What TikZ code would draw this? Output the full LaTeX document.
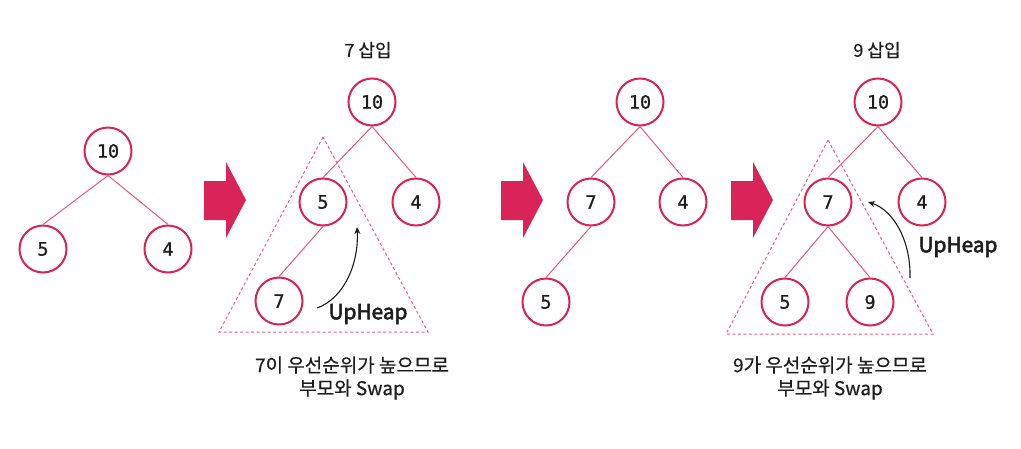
\documentclass[tikz,border=0pt]{standalone}
\usepackage{fontspec}
\setmainfont{Noto Sans CJK KR}[FakeBold=0.4]
\newfontfamily\numfont{DejaVu Sans Mono}[FakeBold=0.8]
\newfontfamily\uhfont{Noto Sans CJK KR}[FakeBold=2.6]
\usetikzlibrary{arrows.meta}
\definecolor{crim}{RGB}{216,36,88}
\definecolor{edgepink}{RGB}{226,90,128}
\definecolor{dashpink}{RGB}{232,96,136}
\definecolor{txt}{RGB}{30,30,30}
\begin{document}
\begin{tikzpicture}[x=1pt,y=-1pt,
 hn/.style={circle,draw=crim,fill=white,line width=2pt,minimum size=47pt,inner sep=0pt,font=\numfont\fontsize{18.5}{18.5}\selectfont,text=txt},
 ed/.style={draw=edgepink,line width=1pt},
 tri/.style={draw=dashpink,line width=1pt,dash pattern=on 3pt off 2.5pt},
 bigarrow/.style={fill=crim},
 upa/.style={draw=txt,line width=1.1pt,-{Stealth[length=7pt,width=6pt]}},
 uplabel/.style={font=\uhfont\fontsize{20.8}{20.8}\selectfont,text=txt},
 captxt/.style={font=\fontsize{19}{23}\selectfont,align=center,text=txt},
 ttl/.style={font=\fontsize{18}{18}\selectfont,text=txt},
]
\fill[white] (0,0) rectangle (1021,448);
\useasboundingbox (0,0) rectangle (1021,448);

% big arrows
\foreach \t in {246,543,773}{
  \fill[bigarrow] (\t-42,181) -- (\t-20,181) -- (\t-20,162) -- (\t,200) -- (\t-20,238) -- (\t-20,220) -- (\t-42,220) -- cycle;
}

% dashed triangles
\coordinate (bt1) at (323,137); \coordinate (bt2) at (219,332); \coordinate (bt3) at (428,332);
\draw[tri] (bt1) -- (bt2) -- (bt3) -- cycle;
\coordinate (dt1) at (828,140); \coordinate (dt2) at (726,334); \coordinate (dt3) at (933,334);
\draw[tri] (dt1) -- (dt2) -- (dt3) -- cycle;

% tree 1
\node[hn] (a10) at (108,151) {10};
\node[hn] (a5) at (43,249) {5};
\node[hn] (a4) at (168,249) {4};
\draw[ed] (a10.south) -- (a5.north);
\draw[ed] (a10.south) -- (a4.north);

% tree 2
\node[ttl] (t2) at (368,50) {7 삽입};
\node[hn] (b10) at (372,102) {10};
\node[hn] (b5) at (323,202) {5};
\node[hn] (b4) at (416,202) {4};
\node[hn] (b7) at (279,301) {7};
\draw[ed] (b10.south) -- (b5.north);
\draw[ed] (b10.south) -- (b4.north);
\draw[ed] (b5.south) -- (b7.north);
\coordinate (u1s) at (317,308);
\coordinate (u1e) at (357,227);
\draw[upa] (u1s) .. controls (345,298) and (359,262) .. (u1e);
\node[uplabel] (u1) at (368,314) {UpHeap};
\node[captxt] (c2) at (352,378) {7이 우선순위가 높으므로\\부모와 Swap};

% tree 3
\node[hn] (c10) at (640,102) {10};
\node[hn] (c7) at (591,202) {7};
\node[hn] (c4) at (683,202) {4};
\node[hn] (c5) at (546,302) {5};
\draw[ed] (c10.south) -- (c7.north);
\draw[ed] (c10.south) -- (c4.north);
\draw[ed] (c7.south) -- (c5.north);

% tree 4
\node[ttl] (t4) at (877,50) {9 삽입};
\node[hn] (d10) at (878,102) {10};
\node[hn] (d7) at (828,202) {7};
\node[hn] (d4) at (922,202) {4};
\node[hn] (d5) at (785,302) {5};
\node[hn] (d9) at (870,302) {9};
\draw[ed] (d10.south) -- (d7.north);
\draw[ed] (d10.south) -- (d4.north);
\draw[ed] (d7.south) -- (d5.north);
\draw[ed] (d7.south) -- (d9.north);
\coordinate (u2s) at (910,278);
\coordinate (u2e) at (868,202);
\draw[upa] (u2s) .. controls (911,240) and (893,210) .. (u2e);
\node[uplabel] (u2) at (958,247) {UpHeap};
\node[captxt] (c4cap) at (830,378) {9가 우선순위가 높으므로\\부모와 Swap};
\end{tikzpicture}
\end{document}
